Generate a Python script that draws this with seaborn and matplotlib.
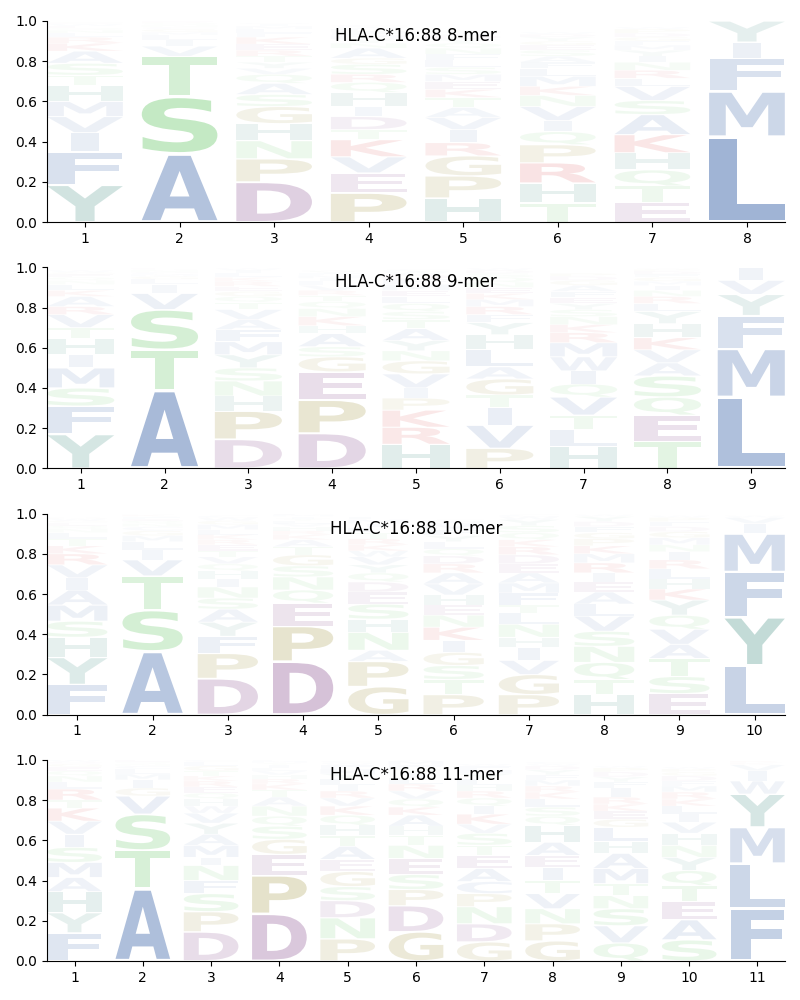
import matplotlib
matplotlib.use("Agg")
import matplotlib.pyplot as plt
import seaborn as sns
from matplotlib.textpath import TextPath
from matplotlib.patches import PathPatch
from matplotlib.font_manager import FontProperties
from matplotlib.transforms import Affine2D

ALLELE = "HLA-C*16:88"
LENGTHS = [8, 9, 10, 11]

# ---- data: letters listed bottom -> top, with their stack heights ----
mer8_letters = [
    "YFIVMHTSAKRLNQEWDG",
    "ASTVILMGCNQRE",
    "DPNHGSAQVYTREKFLMIW",
    "PEVKTDIHQRSGANYMFLWC",
    "HPGRIVATKEMSLFNQYDWC",
    "THRPQIVNKMLFASEGYDW",
    "ETQHKASVLRNIYMFGDPW",
    "LMFIY",
]
mer8_heights = [
    [.185, .165, .095, .08, .075, .08, .05, .06, .06, .04, .03, .02, .015, .01, .01, .01, .005, .005],
    [.34, .285, .2, .05, .03, .025, .015, .015, .01, .01, .01, .005, .005],
    [.2, .115, .09, .085, .085, .06, .055, .045, .03, .03, .03, .03, .03, .035, .02, .02, .015, .01, .005],
    [.145, .1, .08, .085, .05, .065, .05, .07, .05, .04, .05, .03, .05, .025, .02, .02, .015, .015, .01, .01],
    [.12, .11, .1, .065, .065, .06, .05, .05, .04, .04, .035, .035, .035, .03, .03, .025, .02, .02, .01, .01],
    [.095, .1, .1, .09, .065, .055, .07, .055, .045, .05, .04, .03, .03, .03, .025, .02, .02, .015, .01],
    [.1, .08, .08, .085, .09, .1, .07, .07, .04, .04, .04, .03, .03, .025, .02, .02, .02, .02, .01],
    [.425, .225, .165, .08, .105],
]

mer9_letters = [
    "YFSMIHTVRAKLNQEGW",
    "ATSVILGMCNQE",
    "DPHNSYMFAVTQGERKLIW",
    "DPEGSAHKNQTRVLIMFYW",
    "HRKPIVGNYATSQLEMFDWC",
    "PVITGALHYFRMKENQSDW",
    "HLTVQIWMRKNSYEFAGDP",
    "TEQSAVKHYLRNIMGFDPW",
    "LMFYVI",
]
mer9_heights = [
    [.17, .14, .09, .1, .065, .08, .055, .065, .04, .05, .03, .03, .02, .015, .015, .01, .01],
    [.39, .2, .2, .08, .045, .025, .015, .01, .01, .01, .005, .005],
    [.145, .14, .075, .075, .065, .065, .065, .06, .05, .05, .035, .03, .025, .025, .025, .02, .02, .015, .01],
    [.175, .165, .14, .075, .05, .065, .04, .045, .04, .035, .03, .025, .025, .02, .015, .015, .01, .01, .005],
    [.12, .085, .085, .06, .05, .07, .065, .05, .05, .06, .045, .04, .04, .035, .03, .03, .025, .025, .015, .01],
    [.1, .115, .09, .06, .08, .06, .085, .075, .06, .04, .04, .035, .03, .03, .025, .025, .02, .015, .01],
    [.11, .085, .07, .09, .065, .065, .07, .07, .05, .04, .04, .035, .03, .03, .03, .03, .025, .02, .015],
    [.135, .13, .09, .105, .065, .065, .06, .07, .06, .04, .035, .03, .025, .02, .02, .015, .015, .01, .005],
    [.355, .24, .165, .105, .07, .065],
]

mer10_letters = [
    "FYHSMAIVRKTLNQEGWD",
    "ASTVILMGCNQEFK",
    "DPFYASNIHQVTERKLMGWC",
    "DPEQNSGTAKRHVLYIMF",
    "GPANHSEDQYVWKRTLIMF",
    "PTSGIKNEHVARDQLYFMWC",
    "PGVIHNLTFMAEDRKQSYWC",
    "HTQNSVLAEIRMKPGFDYW",
    "ESTAVQYKHLRINMGDFPW",
    "LYFMIVW",
]
mer10_heights = [
    [.15, .135, .1, .08, .08, .075, .06, .065, .055, .04, .035, .03, .02, .015, .015, .01, .01, .005],
    [.315, .205, .17, .08, .05, .04, .03, .025, .02, .015, .015, .01, .01, .01],
    [.18, .125, .085, .07, .065, .055, .055, .04, .04, .035, .035, .03, .03, .025, .025, .025, .025, .02, .015, .01],
    [.265, .175, .115, .065, .065, .055, .055, .04, .035, .025, .02, .02, .015, .015, .01, .01, .01, .005],
    [.14, .125, .055, .09, .065, .075, .06, .05, .045, .04, .04, .03, .03, .03, .03, .025, .02, .02, .015],
    [.1, .075, .07, .065, .06, .065, .06, .05, .05, .055, .055, .045, .04, .035, .035, .03, .03, .025, .015, .01],
    [.1, .1, .07, .065, .05, .065, .055, .04, .06, .05, .05, .045, .045, .04, .035, .035, .035, .03, .015, .01],
    [.1, .075, .085, .08, .075, .075, .06, .06, .05, .045, .05, .045, .04, .035, .03, .03, .025, .025, .01],
    [.105, .085, .09, .07, .075, .07, .075, .055, .05, .05, .045, .04, .035, .035, .03, .025, .025, .02, .01],
    [.245, .24, .225, .19, .05, .03, .01],
]

mer11_letters = [
    "FYHAMSIVKTRLNQEGDW",
    "ATSVGIMLCNQE",
    "DPSFNIMAYVWHQERKTGLC",
    "DPEGSQNATKRHVLIYMF",
    "PNDSGEATHQKVRILYMFWC",
    "GDPSENTHAKQVRLIYFMW",
    "GDNPCAETSVKIQRHLYMFW",
    "GPNVTIEAHQSLKRMFYDWC",
    "QVSNTMAHLGEKRIFYDPW",
    "SAETQYNHVILKRMFDGPW",
    "FLMYWIVKR",
]
mer11_heights = [
    [.14, .1, .105, .07, .075, .075, .065, .065, .065, .04, .055, .035, .03, .025, .02, .015, .01, .01],
    [.36, .19, .18, .09, .04, .04, .03, .025, .015, .01, .01, .01],
    [.145, .1, .09, .065, .075, .04, .06, .055, .055, .05, .035, .035, .03, .03, .03, .025, .025, .025, .02, .01],
    [.235, .19, .105, .075, .065, .05, .05, .045, .035, .03, .025, .02, .02, .015, .015, .01, .01, .005],
    [.11, .105, .085, .07, .075, .06, .065, .055, .05, .05, .045, .04, .035, .03, .03, .025, .025, .02, .01, .01],
    [.145, .13, .08, .075, .08, .065, .05, .045, .055, .04, .04, .04, .035, .03, .025, .02, .02, .02, .01],
    [.095, .09, .085, .065, .06, .065, .065, .05, .06, .045, .05, .04, .04, .035, .03, .03, .025, .02, .02, .01],
    [.1, .085, .075, .075, .065, .065, .06, .065, .085, .045, .045, .04, .035, .03, .03, .025, .025, .02, .01, .01],
    [.09, .085, .085, .065, .06, .075, .075, .06, .07, .04, .04, .035, .035, .045, .03, .025, .025, .02, .01],
    [.105, .1, .09, .08, .075, .065, .06, .06, .055, .04, .04, .035, .035, .03, .025, .025, .02, .015, .01],
    [.26, .225, .18, .165, .065, .05, .03, .01, .01],
]

# ---- colour scheme by residue class ----
class_colors = {
    "hydrophobic": "#4c72b0",
    "polar": "#5ac35a",
    "acidic": "#834689",
    "special": "#968728",
    "basic": "#d62728",
    "aromatic_polar": "#3a8a7d",
}
residue_class = {}
for aa in "AVLIMFWC":
    residue_class[aa] = "hydrophobic"
for aa in "STNQ":
    residue_class[aa] = "polar"
for aa in "DE":
    residue_class[aa] = "acidic"
for aa in "PG":
    residue_class[aa] = "special"
for aa in "KR":
    residue_class[aa] = "basic"
for aa in "HY":
    residue_class[aa] = "aromatic_polar"

panels = [
    (mer8_letters, mer8_heights),
    (mer9_letters, mer9_heights),
    (mer10_letters, mer10_heights),
    (mer11_letters, mer11_heights),
]

FONT = FontProperties(family="DejaVu Sans", weight="bold")
_glyphs = {}


def glyph(ch):
    if ch not in _glyphs:
        _glyphs[ch] = TextPath((0, 0), ch, size=1, prop=FONT)
    return _glyphs[ch]


REF_WIDTH = glyph("E").get_extents().width


def draw_letter(ax, ch, x, y0, h, width=0.8, vpad=0.03):
    path = glyph(ch)
    ext = path.get_extents()
    hh = h * (1 - 2 * vpad)
    # do not stretch narrow glyphs horizontally more than 'E' would be
    sx = min(width / ext.width, width / REF_WIDTH)
    w_eff = ext.width * sx
    t = (Affine2D()
         .translate(-ext.x0, -ext.y0)
         .scale(sx, hh / ext.height)
         .translate(x - w_eff / 2, y0 + h * vpad))
    color = class_colors[residue_class[ch]]
    alpha = min(1.0, 1.25 * h)
    ax.add_patch(PathPatch(t.transform_path(path), facecolor=color,
                           edgecolor="none", alpha=alpha, zorder=2))


fig, axes = plt.subplots(4, 1, figsize=(8, 10), dpi=100)
fig.subplots_adjust(left=0.059, right=0.981, top=0.979, bottom=0.039, hspace=0.224)

for ax, L, (letters, heights) in zip(axes, LENGTHS, panels):
    for pos, (lets, hts) in enumerate(zip(letters, heights), start=1):
        y = 0.0
        for ch, h in zip(lets, hts):
            draw_letter(ax, ch, pos, y, h)
            y += h
    ax.set_xlim(0.6, L + 0.4)
    ax.set_ylim(0, 1)
    ax.set_xticks(range(1, L + 1))
    ax.set_yticks([0, 0.2, 0.4, 0.6, 0.8, 1.0])
    ax.text(0.5, 0.925, f"{ALLELE} {L}-mer", transform=ax.transAxes,
            ha="center", va="center", fontsize=12, zorder=5)
    sns.despine(ax=ax)

fig.savefig("out.png", dpi=100)
